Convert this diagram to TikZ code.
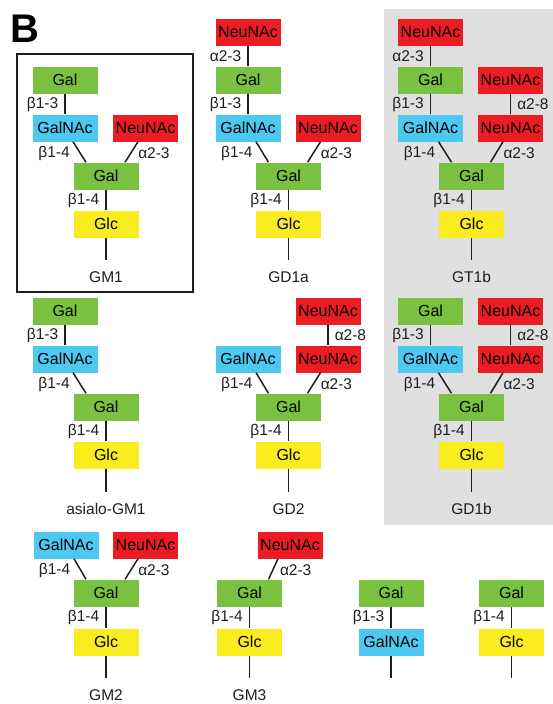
\documentclass[tikz,border=0pt]{standalone}
\usepackage{fontspec}
\setmainfont{Liberation Sans}
\usetikzlibrary{calc}

\definecolor{galgreen}{RGB}{122,193,66}
\definecolor{galnacblue}{RGB}{77,200,241}
\definecolor{neured}{RGB}{236,28,36}
\definecolor{glcyellow}{RGB}{250,236,30}
\definecolor{panelgray}{RGB}{224,224,224}
\definecolor{ink}{RGB}{30,30,30}

\tikzset{
  sugar/.style={minimum width=65pt, minimum height=27pt, inner sep=0pt,
                font=\fontsize{16}{19}\selectfont, text=black},
  gal/.style={sugar, fill=galgreen},
  galnac/.style={sugar, fill=galnacblue},
  neu/.style={sugar, fill=neured},
  glc/.style={sugar, fill=glcyellow},
  link/.style={line width=1.5pt, draw=ink},
  bond/.style={font=\fontsize{15.5}{18}\selectfont, inner sep=1pt, text=ink},
  bondL/.style={bond, anchor=east, xshift=-5pt},
  bondR/.style={bond, anchor=west, xshift=5pt},
  diagL/.style={bond, anchor=east, xshift=-8pt, yshift=-1pt},
  diagR/.style={bond, anchor=west, xshift=5pt, yshift=-1pt},
  gname/.style={font=\fontsize{15.5}{18}\selectfont, text=ink},
}

\begin{document}
\begin{tikzpicture}[x=1pt, y=-1pt]
\useasboundingbox (0,0) rectangle (553,704);

% panel letter
\node[font=\fontsize{40}{44}\selectfont\bfseries, inner sep=0pt] (letter) at (24.5,29) {B};

% grey panel behind the b-series gangliosides
\fill[panelgray] (384,9) rectangle (553,525);
% frame round GM1
\draw[line width=1.4pt, draw=ink] (17,54) rectangle (193,292);

% ---------- GM1 ----------
\node[gal]    (a1) at (65,80)    {Gal};
\node[galnac] (a2) at (65,128)   {GalNAc};
\node[neu]    (a3) at (145.5,128){NeuNAc};
\node[gal]    (a4) at (106,176)  {Gal};
\node[glc]    (a5) at (106,224)  {Glc};
\coordinate   (a6) at (106,260);
\node[gname]  (a7) at (106,277)  {GM1};
\draw[link] (a1) -- (a2) node[midway, bondL] {β1-3};
\draw[link] ($(a2.south)+(8,0)$) -- ($(a4.north)+(-20,0)$) node[midway, diagL] {β1-4};
\draw[link] ($(a3.south)+(-7.5,0)$) -- ($(a4.north)+(19,0)$) node[midway, diagR] {α2-3};
\draw[link] (a4) -- (a5) node[midway, bondL] {β1-4};
\draw[link] (a5) -- (a6);

% ---------- GD1a ----------
\node[neu]    (b0) at (248,32)   {NeuNAc};
\node[gal]    (b1) at (248,80)   {Gal};
\node[galnac] (b2) at (248,128)  {GalNAc};
\node[neu]    (b3) at (328,128)  {NeuNAc};
\node[gal]    (b4) at (288.5,176){Gal};
\node[glc]    (b5) at (288.5,224){Glc};
\coordinate   (b6) at (288.5,260);
\node[gname]  (b7) at (288.5,277){GD1a};
\draw[link] (b0) -- (b1) node[midway, bondL] {α2-3};
\draw[link] (b1) -- (b2) node[midway, bondL] {β1-3};
\draw[link] ($(b2.south)+(8,0)$) -- ($(b4.north)+(-20,0)$) node[midway, diagL] {β1-4};
\draw[link] ($(b3.south)+(-7.5,0)$) -- ($(b4.north)+(19,0)$) node[midway, diagR] {α2-3};
\draw[link] (b4) -- (b5) node[midway, bondL] {β1-4};
\draw[link] (b5) -- (b6);

% ---------- GT1b ----------
\node[neu]    (c0) at (430.5,32) {NeuNAc};
\node[gal]    (c1) at (430.5,80) {Gal};
\node[neu]    (c8) at (510.5,80) {NeuNAc};
\node[galnac] (c2) at (430.5,128){GalNAc};
\node[neu]    (c3) at (510.5,128){NeuNAc};
\node[gal]    (c4) at (471.5,176){Gal};
\node[glc]    (c5) at (471.5,224){Glc};
\coordinate   (c6) at (471.5,260);
\node[gname]  (c7) at (471.5,277){GT1b};
\draw[link] (c0) -- (c1) node[midway, bondL] {α2-3};
\draw[link] (c1) -- (c2) node[midway, bondL] {β1-3};
\draw[link] (c8) -- (c3) node[midway, bondR] {α2-8};
\draw[link] ($(c2.south)+(8,0)$) -- ($(c4.north)+(-20,0)$) node[midway, diagL] {β1-4};
\draw[link] ($(c3.south)+(-7.5,0)$) -- ($(c4.north)+(19,0)$) node[midway, diagR] {α2-3};
\draw[link] (c4) -- (c5) node[midway, bondL] {β1-4};
\draw[link] (c5) -- (c6);

% ---------- asialo-GM1 ----------
\node[gal]    (d1) at (65,311)   {Gal};
\node[galnac] (d2) at (65,359)   {GalNAc};
\node[gal]    (d4) at (106,407)  {Gal};
\node[glc]    (d5) at (106,455)  {Glc};
\coordinate   (d6) at (106,492);
\node[gname]  (d7) at (106,509)  {asialo-GM1};
\draw[link] (d1) -- (d2) node[midway, bondL] {β1-3};
\draw[link] ($(d2.south)+(8,0)$) -- ($(d4.north)+(-20,0)$) node[midway, diagL] {β1-4};
\draw[link] (d4) -- (d5) node[midway, bondL] {β1-4};
\draw[link] (d5) -- (d6);

% ---------- GD2 ----------
\node[neu]    (e8) at (328,311)  {NeuNAc};
\node[galnac] (e2) at (248,359)  {GalNAc};
\node[neu]    (e3) at (328,359)  {NeuNAc};
\node[gal]    (e4) at (288.5,407){Gal};
\node[glc]    (e5) at (288.5,455){Glc};
\coordinate   (e6) at (288.5,492);
\node[gname]  (e7) at (288.5,509){GD2};
\draw[link] (e8) -- (e3) node[midway, bondR] {α2-8};
\draw[link] ($(e2.south)+(8,0)$) -- ($(e4.north)+(-20,0)$) node[midway, diagL] {β1-4};
\draw[link] ($(e3.south)+(-7.5,0)$) -- ($(e4.north)+(19,0)$) node[midway, diagR] {α2-3};
\draw[link] (e4) -- (e5) node[midway, bondL] {β1-4};
\draw[link] (e5) -- (e6);

% ---------- GD1b ----------
\node[gal]    (f1) at (430.5,311){Gal};
\node[neu]    (f8) at (510.5,311){NeuNAc};
\node[galnac] (f2) at (430.5,359){GalNAc};
\node[neu]    (f3) at (510.5,359){NeuNAc};
\node[gal]    (f4) at (471.5,407){Gal};
\node[glc]    (f5) at (471.5,455){Glc};
\coordinate   (f6) at (471.5,492);
\node[gname]  (f7) at (471.5,509){GD1b};
\draw[link] (f1) -- (f2) node[midway, bondL] {β1-3};
\draw[link] (f8) -- (f3) node[midway, bondR] {α2-8};
\draw[link] ($(f2.south)+(8,0)$) -- ($(f4.north)+(-20,0)$) node[midway, diagL] {β1-4};
\draw[link] ($(f3.south)+(-7.5,0)$) -- ($(f4.north)+(19,0)$) node[midway, diagR] {α2-3};
\draw[link] (f4) -- (f5) node[midway, bondL] {β1-4};
\draw[link] (f5) -- (f6);

% ---------- GM2 ----------
\node[galnac] (g2) at (66,545)   {GalNAc};
\node[neu]    (g3) at (145.5,545){NeuNAc};
\node[gal]    (g4) at (106,593)  {Gal};
\node[glc]    (g5) at (106,642)  {Glc};
\coordinate   (g6) at (106,678);
\node[gname]  (g7) at (106,695)  {GM2};
\draw[link] ($(g2.south)+(8,0)$) -- ($(g4.north)+(-20,0)$) node[midway, diagL] {β1-4};
\draw[link] ($(g3.south)+(-7.5,0)$) -- ($(g4.north)+(19,0)$) node[midway, diagR] {α2-3};
\draw[link] (g4) -- (g5) node[midway, bondL] {β1-4};
\draw[link] (g5) -- (g6);

% ---------- GM3 ----------
\node[neu]    (h3) at (290,545)  {NeuNAc};
\node[gal]    (h4) at (249.5,593){Gal};
\node[glc]    (h5) at (249.5,642){Glc};
\coordinate   (h6) at (249.5,678);
\node[gname]  (h7) at (249.5,695){GM3};
\draw[link] ($(h3.south)+(-12,0)$) -- ($(h4.north)+(19,0)$) node[midway, diagR] {α2-3};
\draw[link] (h4) -- (h5) node[midway, bondL] {β1-4};
\draw[link] (h5) -- (h6);

% ---------- Gal-GalNAc ----------
\node[gal]    (i1) at (391,593)  {Gal};
\node[galnac] (i2) at (391,642)  {GalNAc};
\coordinate   (i6) at (391,678);
\draw[link] (i1) -- (i2) node[midway, bondL] {β1-3};
\draw[link] (i2) -- (i6);

% ---------- Gal-Glc ----------
\node[gal]    (j1) at (511.5,593){Gal};
\node[glc]    (j5) at (511.5,642){Glc};
\coordinate   (j6) at (511.5,678);
\draw[link] (j1) -- (j5) node[midway, bondL] {β1-4};
\draw[link] (j5) -- (j6);
\end{tikzpicture}
\end{document}
